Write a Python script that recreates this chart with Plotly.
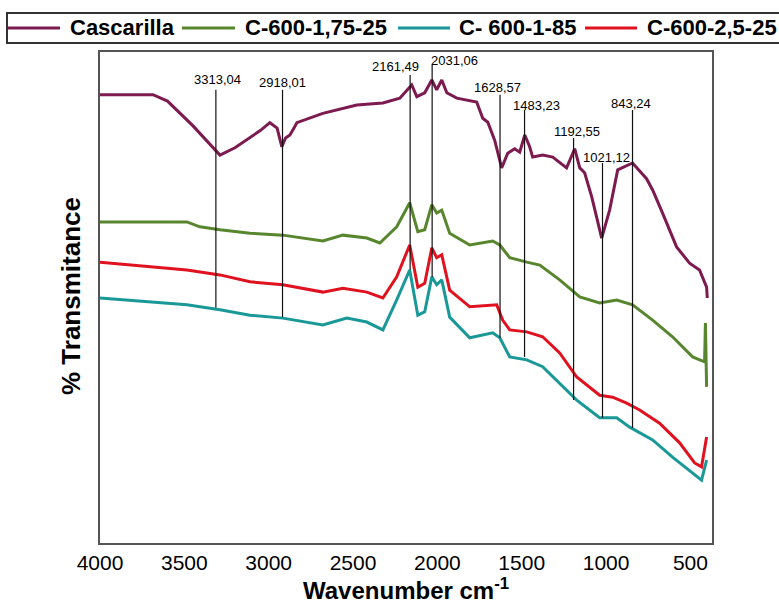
import plotly.graph_objects as go

# ---------------- data (wavenumber cm-1, % transmittance, arbitrary offset) ----------------
cas_wn = [4000, 3686, 3600, 3450, 3289, 3200, 3050, 2993, 2950, 2922, 2900, 2874, 2850, 2833, 2679,
          2478, 2323, 2223, 2152, 2122, 2075, 2033, 2004, 1974, 1944, 1885, 1767, 1731, 1701,
          1660, 1619, 1583, 1542, 1512, 1482, 1453, 1435, 1376, 1316, 1234, 1186, 1156, 1127,
          1085, 1026, 979, 931, 843, 760, 724, 665, 582, 505, 446, 404, 400]
cas_T = [91.3, 91.3, 90.0, 85.0, 79.0, 80.5, 84.0, 85.6, 84.5, 80.7, 82.5, 83.1, 84.5, 85.6, 87.5,
         89.2, 89.6, 90.6, 93.3, 90.9, 91.7, 94.3, 92.3, 94.3, 91.7, 90.6, 89.8, 86.5, 85.7,
         82.0, 76.4, 79.4, 80.3, 79.6, 83.1, 80.7, 78.6, 79.0, 78.6, 76.4, 80.3, 76.4, 75.4,
         70.5, 62.1, 67.8, 76.0, 77.4, 74.2, 71.9, 67.2, 60.3, 57.0, 55.6, 52.1, 49.9]

c175_wn = [4000, 3485, 3408, 3289, 3111, 2916, 2679, 2560, 2418, 2341, 2241, 2164, 2116, 2075,
           2033, 2004, 1974, 1927, 1808, 1672, 1630, 1571, 1470, 1393, 1275, 1156, 1038, 937,
           843, 724, 606, 487, 416, 411, 404]
c175_T = [65.4, 65.4, 64.4, 63.8, 63.1, 62.7, 61.5, 62.7, 62.1, 61.1, 64.4, 69.3, 63.4, 63.8,
          68.9, 67.2, 67.8, 63.1, 60.7, 61.5, 60.7, 58.1, 57.2, 56.6, 53.6, 50.1, 48.9, 49.5,
          48.5, 45.4, 42.0, 37.9, 36.9, 44.8, 31.8]

c185_wn = [4000, 3485, 3289, 3111, 2916, 2679, 2537, 2418, 2323, 2241, 2164, 2116, 2075, 2033,
           2004, 1974, 1927, 1808, 1672, 1630, 1571, 1470, 1376, 1257, 1174, 1038, 937, 860,
           724, 606, 487, 434, 404]
c185_T = [49.9, 48.5, 47.5, 46.4, 45.8, 44.4, 45.8, 45.0, 43.4, 49.5, 55.6, 46.4, 47.1, 54.2,
          52.6, 53.6, 46.0, 41.8, 42.8, 41.8, 37.9, 37.3, 35.9, 31.8, 29.1, 25.5, 25.5, 23.6,
          21.0, 17.5, 14.3, 12.8, 16.9]

c25_wn = [4000, 3485, 3289, 3111, 2916, 2679, 2560, 2418, 2323, 2241, 2164, 2116, 2075, 2033,
          2004, 1974, 1927, 1808, 1648, 1613, 1571, 1470, 1376, 1275, 1174, 1038, 961, 878,
          801, 683, 564, 475, 434, 404]
c25_T = [57.2, 55.6, 54.6, 53.2, 52.6, 51.1, 51.9, 51.1, 49.9, 54.2, 60.7, 52.1, 52.9, 60.1,
         58.1, 58.7, 51.5, 48.1, 48.5, 45.4, 43.4, 43.0, 42.0, 38.7, 33.8, 30.1, 29.7, 28.5,
         27.1, 24.4, 20.4, 16.3, 15.5, 21.6]

series_names = ["Cascarilla", "C-600-1,75-25", "C- 600-1-85", "C-600-2,5-25"]

peak_wn = [3313.04, 2918.01, 2161.49, 2031.06, 1628.57, 1483.23, 1192.55, 1021.12, 843.24]
peak_labels = ["3313,04", "2918,01", "2161,49", "2031,06", "1628,57", "1483,23", "1192,55", "1021,12", "843,24"]
peak_top = [92.3, 92.3, 95.3, 97.4, 91.3, 88.2, 82.5, 77.4, 88.2]
peak_bottom = [47.9, 46.0, 55.6, 54.2, 41.8, 37.9, 29.1, 25.5, 23.4]
peak_label_T = [94.3, 93.7, 97.0, 98.2, 92.7, 89.2, 83.9, 78.6, 89.6]

x_ticks = [4000, 3500, 3000, 2500, 2000, 1500, 1000, 500]

# ---------------- styling ----------------
colors = ["#7d1a50", "#58862f", "#1a9898", "#e0121f"]
FONT = "Liberation Sans, Arial, sans-serif"

fig = go.Figure()
for wn, T, name, col in zip([cas_wn, c175_wn, c185_wn, c25_wn], [cas_T, c175_T, c185_T, c25_T],
                            series_names, colors):
    fig.add_trace(go.Scatter(x=wn, y=T, mode="lines", name=name, showlegend=False,
                             line=dict(color=col, width=3)))

shapes = []
annotations = []
xshift = [2, 0, -15, 22, -3, 12, 3, 4, -2]
for wn, lab, top, bot, ly, xs in zip(peak_wn, peak_labels, peak_top, peak_bottom, peak_label_T, xshift):
    shapes.append(dict(type="line", xref="x", yref="y", x0=wn, x1=wn, y0=bot, y1=top,
                       line=dict(color="#111111", width=1.2), layer="above"))
    annotations.append(dict(x=wn, y=ly, xref="x", yref="y", text=lab, showarrow=False,
                            yanchor="middle", xshift=xs,
                            font=dict(family=FONT, size=13, color="#000")))

# custom legend (paper coordinates, plot area 100..712 px horizontally, 52..543 vertically)
def px_x(p):
    return (p - 100) / 612.0

def px_y(p):
    return (543 - p) / 491.0

shapes.append(dict(type="rect", xref="paper", yref="paper", x0=px_x(7), x1=px_x(790),
                   y0=px_y(43), y1=px_y(13), line=dict(color="#333", width=2), fillcolor="white",
                   layer="above"))
leg_line = [(8, 60), (182, 235), (398, 450), (585, 637)]
leg_text = [68, 243, 457, 645]
for (a, b), t, name, col in zip(leg_line, leg_text, series_names, colors):
    shapes.append(dict(type="line", xref="paper", yref="paper", x0=px_x(a), x1=px_x(b),
                       y0=px_y(28), y1=px_y(28), line=dict(color=col, width=3), layer="above"))
    annotations.append(dict(x=px_x(t), y=px_y(28), xref="paper", yref="paper", text="<b>%s</b>" % name,
                            showarrow=False, xanchor="left", yanchor="middle",
                            font=dict(family=FONT, size=22, color="#000")))

annotations.append(dict(x=px_x(406), y=px_y(589), xref="paper", yref="paper",
                        text="<b>Wavenumber cm<sup>-1</sup></b>", showarrow=False,
                        xanchor="center", yanchor="middle",
                        font=dict(family=FONT, size=24, color="#000")))
annotations.append(dict(x=px_x(71), y=px_y(296), xref="paper", yref="paper",
                        text="<b>% Transmitance</b>", showarrow=False, textangle=-90,
                        xanchor="center", yanchor="middle",
                        font=dict(family=FONT, size=26, color="#000")))

fig.update_layout(
    width=779, height=607,
    margin=dict(l=100, r=67, t=52, b=64),
    paper_bgcolor="white", plot_bgcolor="white",
    shapes=shapes, annotations=annotations,
    xaxis=dict(range=[4000, 372], tickvals=x_ticks, ticktext=[str(v) for v in x_ticks],
               showgrid=False, zeroline=False, showline=True, mirror=True,
               linecolor="#555", linewidth=1.5, ticks="",
               tickfont=dict(family=FONT, size=21, color="#000")),
    yaxis=dict(range=[0, 100], showticklabels=False, showgrid=False, zeroline=False,
               showline=True, mirror=True, linecolor="#555", linewidth=1.5, ticks=""),
)

fig.write_html("out.html")
